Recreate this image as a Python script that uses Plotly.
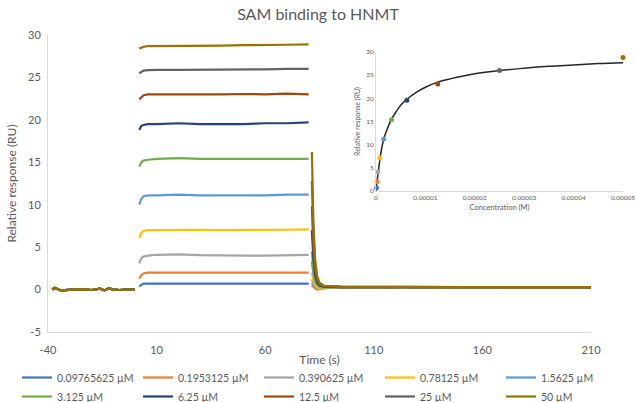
import plotly.graph_objects as go

# ---------------- data ----------------
labels = ["0.09765625 µM", "0.1953125 µM", "0.390625 µM", "0.78125 µM", "1.5625 µM",
          "3.125 µM", "6.25 µM", "12.5 µM", "25 µM", "50 µM"]
colors = ["#4472C4", "#ED7D31", "#A5A5A5", "#FFC000", "#5B9BD5",
          "#70AD47", "#264478", "#9E480E", "#636363", "#997300"]
conc_M = [0.09765625e-6, 0.1953125e-6, 0.390625e-6, 0.78125e-6, 1.5625e-6,
          3.125e-6, 6.25e-6, 12.5e-6, 25e-6, 50e-6]

baseline_t = [-38, -37, -34, -30, -25, -20, -16, -14, -12, -10, -7, -4, 0]
baseline_y = [0.0, 0.2, -0.1, 0.0, 0.05, -0.05, 0.1, -0.1, 0.15, 0.0, -0.05, 0.0, 0.0]

assoc_t = [2, 3, 4, 6, 10, 20, 30, 40, 50, 60, 70, 80]
assoc_y = [
    [0.4, 0.6, 0.7, 0.7, 0.7, 0.65, 0.65, 0.65, 0.65, 0.65, 0.65, 0.7],
    [1.3, 1.7, 1.9, 2.0, 2.0, 2.0, 1.95, 1.95, 1.95, 1.95, 2.0, 2.0],
    [3.1, 3.7, 3.9, 4.0, 4.1, 4.15, 4.05, 4.0, 4.0, 4.0, 4.05, 4.1],
    [6.1, 6.7, 6.9, 7.0, 7.0, 7.05, 7.05, 7.0, 7.0, 7.0, 7.05, 7.1],
    [10.0, 10.7, 11.0, 11.1, 11.1, 11.2, 11.1, 11.1, 11.1, 11.1, 11.2, 11.2],
    [14.5, 15.0, 15.2, 15.3, 15.4, 15.5, 15.4, 15.4, 15.4, 15.4, 15.45, 15.4],
    [18.8, 19.3, 19.4, 19.5, 19.5, 19.6, 19.5, 19.5, 19.5, 19.6, 19.6, 19.7],
    [22.4, 22.7, 22.9, 23.0, 23.0, 23.0, 22.95, 23.0, 23.05, 23.0, 23.1, 23.0],
    [25.5, 25.7, 25.8, 25.85, 25.9, 25.9, 25.9, 25.9, 25.95, 25.95, 26.0, 26.0],
    [28.4, 28.5, 28.6, 28.7, 28.7, 28.7, 28.75, 28.75, 28.8, 28.8, 28.85, 28.9],
]

dissoc_t = [81.5, 82.2, 83.0, 84.0, 85.0, 87.0, 95, 120, 150, 180, 210]
dissoc_y = [
    [0.5, 0.3, 0.2, 0.15, 0.15, 0.2, 0.25, 0.25, 0.25, 0.25, 0.25],
    [0.8, 0.4, 0.1, 0.0, 0.05, 0.15, 0.25, 0.25, 0.25, 0.25, 0.25],
    [1.2, 0.7, 0.4, 0.2, 0.15, 0.2, 0.25, 0.25, 0.25, 0.25, 0.25],
    [2.0, 1.1, 0.6, 0.3, 0.2, 0.2, 0.25, 0.3, 0.25, 0.3, 0.3],
    [3.3, 1.8, 0.9, 0.5, 0.3, 0.25, 0.25, 0.3, 0.3, 0.3, 0.3],
    [4.5, 2.4, 1.2, 0.6, 0.4, 0.3, 0.3, 0.3, 0.3, 0.3, 0.3],
    [7.0, 3.6, 1.7, 0.8, 0.5, 0.35, 0.3, 0.3, 0.3, 0.3, 0.3],
    [9.8, 5.0, 2.3, 1.0, 0.6, 0.4, 0.3, 0.3, 0.3, 0.3, 0.3],
    [12.8, 6.5, 2.9, 1.3, 0.7, 0.45, 0.35, 0.3, 0.3, 0.3, 0.3],
    [16.2, 8.0, 3.5, 1.5, 0.8, 0.45, 0.35, 0.3, 0.3, 0.3, 0.3],
]

plateau_y = [0.7, 2.0, 4.1, 7.1, 11.2, 15.4, 19.6, 23.1, 26.0, 28.8]

fit_c = [0, 0.5e-6, 1e-6, 1.5e-6, 2e-6, 3e-6, 4e-6, 5e-6, 6.25e-6, 8e-6, 10e-6, 12.5e-6,
         15e-6, 20e-6, 25e-6, 30e-6, 35e-6, 40e-6, 45e-6, 50e-6]
fit_y = [0, 4.5, 8.3, 10.9, 12.6, 15.2, 17.0, 18.5, 19.8, 21.2, 22.4, 23.5,
         24.2, 25.3, 26.0, 26.5, 26.9, 27.2, 27.5, 27.7]

main_xticks = [-40, 10, 60, 110, 160, 210]
main_xticktext = ["-40", "10", "60", "110", "160", "210"]
main_yticks = [-5, 0, 5, 10, 15, 20, 25, 30]
main_yticktext = ["-5", "0", "5", "10", "15", "20", "25", "30"]
inset_xticks = [0, 1e-5, 2e-5, 3e-5, 4e-5, 5e-5]
inset_xticktext = ["0", "0.00001", "0.00002", "0.00003", "0.00004", "0.00005"]
inset_yticks = [0, 5, 10, 15, 20, 25, 30]

# ---------------- figure ----------------
FONT = "Lato, 'Open Sans', sans-serif"
GRAY = "#595959"
fig = go.Figure()

for i, lab in enumerate(labels):
    xs = baseline_t + [None] + assoc_t + [None] + dissoc_t
    ys = baseline_y + [None] + assoc_y[i] + [None] + dissoc_y[i]
    fig.add_trace(go.Scatter(x=xs, y=ys, mode="lines", name=lab,
                             line=dict(color=colors[i], width=2.2),
                             connectgaps=False, xaxis="x", yaxis="y"))

# inset
fig.add_trace(go.Scatter(x=fit_c, y=fit_y, mode="lines", showlegend=False,
                         line=dict(color="#262626", width=1.5, shape="spline"),
                         xaxis="x2", yaxis="y2"))
fig.add_trace(go.Scatter(x=conc_M, y=plateau_y, mode="markers", showlegend=False,
                         marker=dict(color=colors, size=5),
                         xaxis="x2", yaxis="y2", cliponaxis=False))

W, H = 636, 402
ml, mr, mt, mb = 48, 10, 35, 70
pw = W - ml - mr
ph = H - mt - mb

def dx(px):
    return (px - ml) / pw

def dy(py):
    return (H - mb - py) / ph

fig.update_layout(
    width=W, height=H,
    margin=dict(l=ml, r=mr, t=mt, b=mb, autoexpand=False),
    paper_bgcolor="white", plot_bgcolor="white",
    font=dict(family=FONT, color=GRAY, size=11),
    title=dict(text="SAM binding to HNMT", x=0.5, xanchor="center", y=0.963, yanchor="middle",
               font=dict(size=16, color=GRAY, family=FONT)),
    showlegend=True,
    legend=dict(orientation="h", x=dx(17), xanchor="left", y=dy(363), yanchor="top",
                entrywidth=76, entrywidthmode="pixels", tracegroupgap=0,
                font=dict(size=10.5, color=GRAY, family=FONT), itemwidth=30,
                bgcolor="rgba(0,0,0,0)"),
    xaxis=dict(domain=[0, dx(591)], range=[-40, 210], tickvals=main_xticks, ticktext=main_xticktext,
               showgrid=False, zeroline=False, showline=True, linecolor="#D9D9D9", linewidth=1,
               ticks="outside", ticklen=8, tickcolor="rgba(0,0,0,0)",
               title=dict(text="Time (s)", standoff=0, font=dict(size=12, color=GRAY)),
               tickfont=dict(size=11, color=GRAY)),
    yaxis=dict(domain=[0, 1], range=[-5, 30], tickvals=main_yticks, ticktext=main_yticktext,
               showgrid=False, zeroline=False, showline=True, linecolor="#D9D9D9", linewidth=1,
               ticks="outside", ticklen=4, tickcolor="rgba(0,0,0,0)",
               title=dict(text="Relative response (RU)", standoff=8, font=dict(size=12, color=GRAY)),
               tickfont=dict(size=11, color=GRAY)),
    xaxis2=dict(domain=[dx(376), dx(623)], range=[0, 5e-5], anchor="y2",
                tickvals=inset_xticks, ticktext=inset_xticktext,
                showgrid=False, zeroline=False, showline=True, linecolor="#D9D9D9", linewidth=1,
                ticks="", tickfont=dict(size=6.5, color=GRAY),
                title=dict(text="Concentration (M)", standoff=4, font=dict(size=7.5, color=GRAY))),
    yaxis2=dict(domain=[dy(191), dy(52)], range=[0, 30], anchor="x2",
                tickvals=inset_yticks, showgrid=False, zeroline=False, showline=True,
                linecolor="#D9D9D9", linewidth=1, ticks="", tickfont=dict(size=6.5, color=GRAY),
                title=dict(text="Relative response (RU)", standoff=4, font=dict(size=7, color=GRAY))),
)

fig.write_html("out.html", config={"displayModeBar": False},
               post_script="document.body.style.margin='0px';document.body.style.padding='0px';")
